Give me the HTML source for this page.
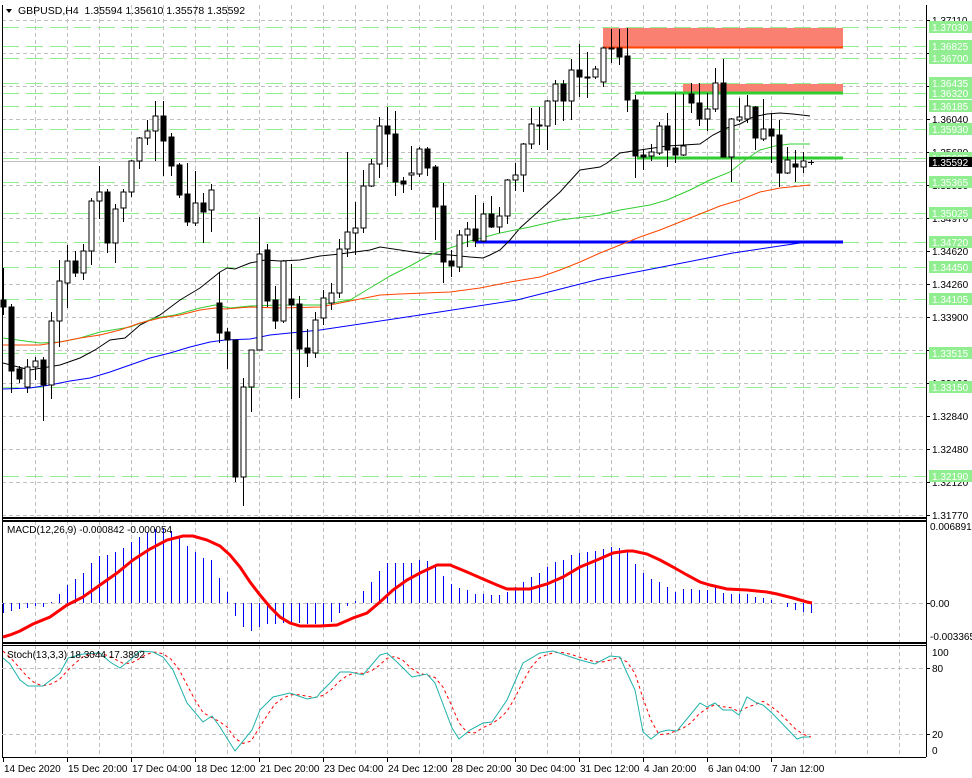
<!DOCTYPE html>
<html><head><meta charset="utf-8"><style>
html,body{margin:0;padding:0;background:#fff;}
svg{display:block;font-family:"Liberation Sans",sans-serif;}
</style></head><body>
<svg id="s" width="972" height="778" xmlns="http://www.w3.org/2000/svg"></svg>
<script>
const S=document.getElementById('s');let h='';
function L(x1,y1,x2,y2,c,w,d){h+=`<line x1="${x1}" y1="${y1}" x2="${x2}" y2="${y2}" stroke="${c}" stroke-width="${w||1}"${d?` stroke-dasharray="${d}"`:''}/>`;}
function T(x,y,t,c,sz,extra){h+=`<text x="${x}" y="${y}" fill="${c||'#000'}" font-size="${sz||10}" ${extra||''}>${t}</text>`;}
function P(pts,c,w,d){h+=`<polyline fill="none" points="${pts.map(p=>p.join(',')).join(' ')}" stroke="${c}" stroke-width="${w||1}"${d?` stroke-dasharray="${d}"`:''}/>`;}
function R(x,y,w,hh,f,st){h+=`<rect x="${x}" y="${y}" width="${w}" height="${hh}" fill="${f}"${st?` stroke="${st}" stroke-width="1"`:''}/>`;}
const py=p=>20+(1.3711-p)*9270;
for(let x=3.5+32;x<926;x+=32){L(x,5,x,518,'#c0c0c0',1,'4,3');L(x,521,x,643,'#c0c0c0',1,'4,3');L(x,645,x,757,'#c0c0c0',1,'4,3');}
const gl=[];for(let i=0;i<16;i++){gl.push(20+i*33);}
gl.forEach(y=>L(2,y+.5,926,y+.5,'#c0c0c0',1,'4,3'));
const greens=[1.37030,1.36825,1.36700,1.36435,1.36320,1.36185,1.35930,1.35625,1.35365,1.35025,1.34720,1.34450,1.34105,1.33515,1.33150,1.32190];
greens.forEach(p=>{const y=Math.round(py(p))+.5;L(2,y,926,y,'#90ee90',1,'17,7');});
L(2,161.5,926,161.5,'#c0c0c0',1);
R(603,28,240,19,'#fa8072');L(603,47.5,843,47.5,'#ff4500',2);
R(683,84,160,9,'#fa8072');
L(635,93,843,93,'#32cd32',3);L(637,158,843,158,'#32cd32',3);
L(475,242,843,242,'#0000ff',3);
P([[3,363],[30,370],[60,365],[80,358],[95,350],[110,340],[125,338],[132,332],[140,325],[160,315],[180,300],[200,288],[220,272],[227,268],[235,269],[250,263],[265,260],[280,261],[300,260],[320,256],[340,254],[370,250],[380,247],[400,250],[420,253],[450,255],[470,257],[483,258],[490,255],[500,250],[510,240],[520,228],[540,210],[560,192],[580,170],[600,167],[607,163],[620,153],[633,151],[667,146],[700,144],[713,135],[727,128],[740,124],[753,117],[767,114],[780,113],[793,114],[810,116]],'#000',1);
P([[3,338],[40,343],[60,342],[80,338],[100,332],[130,327],[155,318],[175,315],[200,308],[215,305],[230,308],[250,306],[280,305],[320,305],[350,300],[370,288],[390,276],[410,266],[430,255],[450,248],[470,241],[500,233],[530,227],[560,220],[600,215],[620,210],[650,205],[667,200],[690,190],[710,180],[730,172],[745,160],[760,150],[775,146],[790,144],[810,144]],'#32cd32',1);
P([[3,345],[40,345],[60,342],[80,338],[100,335],[120,330],[140,323],[160,318],[180,315],[200,310],[215,308],[225,309],[250,307],[280,308],[320,307],[380,295],[400,294],[450,292],[480,288],[510,282],[540,277],[560,270],[580,262],[600,253],[620,245],[640,237],[660,230],[680,222],[700,214],[720,206],[740,200],[760,192],[780,188],[800,186],[810,185]],'#ff4500',1);
P([[3,389],[30,388],[50,385],[70,381],[90,378],[110,372],[130,365],[150,358],[170,353],[190,347],[210,342],[225,340],[250,339],[270,335],[290,333],[320,330],[420,315],[517,300],[600,279],[667,266],[733,253],[800,243]],'#0000ff',1);
const C=[[300,268,315,307],[307,304,393,371],[369,366,383,379],[387,359,393,367],[367,357,380,361],[360,357,421,385],[385,312,399,321],[321,260,347,281],[283,245,308,261],[261,251,277,273],[273,244,280,251],[251,198,265,201],[201,166,219,192],[192,189,253,243],[243,204,263,209],[208,189,222,192],[192,160,197,161],[161,137,169,138],[138,120,145,131],[131,101,161,116],[116,101,176,141],[137,133,176,166],[165,163,198,195],[194,163,226,222],[223,171,226,203],[203,193,243,212],[210,184,232,190],[303,272,343,333],[332,328,369,340],[340,340,482,477],[477,378,506,387],[387,350,412,350],[350,217,350,254],[250,244,307,301],[300,286,329,321],[321,260,323,261],[299,264,399,305],[304,296,398,349],[348,329,367,353],[353,312,358,320],[318,290,325,298],[303,283,310,293],[293,239,298,249],[249,152,257,232],[233,202,255,228],[228,170,233,186],[186,159,187,164],[164,117,178,126],[126,107,167,134],[134,111,196,182],[181,177,193,184],[175,146,190,173],[174,147,177,149],[149,147,176,168],[167,165,240,207],[206,183,283,262],[261,250,277,266],[267,230,272,235],[235,222,247,229],[229,195,247,241],[241,203,242,214],[214,196,228,227],[227,207,233,216],[216,179,224,180],[180,163,191,175],[175,143,192,144],[144,108,149,124],[125,107,145,126],[126,100,150,101],[101,80,125,84],[84,80,121,101],[101,59,120,70],[70,44,97,77],[77,52,98,78],[77,66,79,69],[82,47,87,48],[48,29,63,49],[48,29,65,57],[56,28,112,100],[100,95,178,156],[155,150,170,157],[156,144,161,152],[153,122,155,126],[126,113,167,150],[148,93,163,155],[155,94,156,146],[94,83,113,103],[103,83,126,119],[119,93,131,109],[109,68,112,83],[83,59,157,157],[157,118,182,119],[120,98,122,117],[119,95,123,106],[107,106,150,138],[139,99,141,129],[129,113,163,136],[135,120,187,173],[173,147,174,160],[164,150,182,167],[167,152,173,161]];
C.forEach((c,i)=>{const x=3.5+8*i;let [o,hi,lo,cl]=c;L(x,hi,x,lo,'#000',1);const top=Math.min(o,cl),bh=Math.max(1,Math.abs(o-cl));
 if(cl<o)R(x-2.5,top,5,bh,'#fff','#000');else R(x-2.5,top,5,bh,'#000','#000');});
L(808,162.5,814,162.5,'#000',1);L(811.5,160,811.5,165,'#000',1);
L(2.5,5,2.5,757,'#000',1);L(926.5,5,926.5,757,'#000',1);
L(2,518,926,518,'#000',2);L(2,521,926,521,'#000',2);L(2,643,926,643,'#000',2);L(2,645.5,926,645.5,'#000',1);L(2,757.5,926,757.5,'#000',1);
const lbl=['1.37110','1.36750','1.36390','1.36040','1.35680','1.35330','1.34970','1.34620','1.34260','1.33900','1.33550','1.33190','1.32840','1.32480','1.32120','1.31770'];
gl.forEach((y,i)=>{L(926,y+.5,930,y+.5,'#000');T(932,y+4,lbl[i],'#000',10);});
greens.forEach(p=>{const y=Math.round(py(p));R(929,y-6,43,12,'#90ee90');T(932,y+4,p.toFixed(5),'#fff',10);});
R(929,157,43,10,'#000');T(932,166,'1.35592','#fff',10);
h+=`<polygon points="6,9 12,9 9,13" fill="#000"/>`;
T(18,14,'GBPUSD,H4&#160;&#160;1.35594 1.35610 1.35578 1.35592','#000',10.5);
L(2,603.5,926,603.5,'#c0c0c0',1,'4,3');
const H=[613,611,609,608,606,607,602,594,585,579,573,563,556,555,552,548,542,537,532,529,528,531,537,546,552,558,560,578,592,616,627,631,627,624,624,623,623,623,624,624,625,622,613,606,601,591,582,571,563,563,563,563,560,561,566,576,584,588,590,594,594,595,595,592,587,582,577,573,567,562,560,555,553,552,551,549,547,548,552,564,573,579,582,587,592,589,589,590,590,587,593,594,594,594,597,598,600,603,607,610,612,613];
H.forEach((y,i)=>{const x=3.5+8*i;L(x,603,x,y,'#0000ff',1);});
P([[3,637],[10,635],[20,631],[33,624],[50,617],[67,605],[83,597],[100,585],[117,573],[133,560],[150,549],[167,540],[183,536],[193,536],[207,540],[220,546],[230,555],[240,567],[250,582],[260,595],[270,607],[280,617],[290,623],[300,626],[320,626],[337,625],[353,618],[367,613],[380,602],[393,590],[407,580],[420,573],[437,565],[450,565],[467,572],[483,579],[497,585],[507,589],[530,589],[547,584],[563,577],[580,567],[597,560],[613,553],[620,552],[627,551],[633,551],[647,554],[660,560],[673,567],[687,575],[700,582],[710,585],[727,589],[747,590],[767,592],[777,594],[793,598],[807,602],[812,603]],'#ff0000',3);
T(7,533,'MACD(12,26,9) -0.000842 -0.000054','#000',10);
T(930,530,'0.006891','#000',10);L(926,603.5,930,603.5,'#000');T(930,607,'0.00','#000',10);T(930,640,'-0.003365','#000',10);
L(2,668.5,926,668.5,'#c0c0c0',1,'4,3');L(2,734.5,926,734.5,'#c0c0c0',1,'4,3');
const K=[[3,658],[10,664],[20,680],[28,686],[43,686],[60,673],[68,658],[83,654],[100,653],[110,662],[120,668],[130,660],[140,651],[153,652],[163,657],[173,670],[187,703],[203,722],[212,716],[220,727],[235,751],[252,730],[260,710],[273,697],[290,693],[307,699],[317,697],[320,693],[330,683],[340,672],[350,672],[363,675],[380,655],[387,653],[397,662],[412,677],[427,674],[435,683],[452,728],[459,739],[470,730],[483,723],[492,722],[507,700],[523,663],[540,653],[553,651],[580,660],[595,664],[610,656],[620,657],[627,673],[635,690],[643,732],[651,739],[660,732],[668,730],[677,731],[700,703],[707,707],[715,703],[723,710],[732,710],[739,715],[747,697],[757,703],[763,705],[772,713],[797,739],[803,737],[810,737]];
function kAt(x){for(let i=1;i<K.length;i++){if(x<=K[i][0]){const a=K[i-1],b=K[i];return a[1]+(b[1]-a[1])*(x-a[0])/(b[0]-a[0]);}}return K[K.length-1][1];}
const D=[];for(let i=0;i<=101;i++){const x=3+8*i;const v=(kAt(x)+kAt(x-8)+kAt(x-16))/3;D.push([x,v.toFixed(1)]);}
P(D,'#ff0000',1,'3,3');
P(K,'#20b2aa',1);
T(7,658,'Stoch(13,3,3) 18.3044 17.3892','#000',10);
[[100,656],[80,672],[20,738],[0,754]].forEach(a=>{T(932,a[1],a[0],'#000',10);});
L(926,668.5,930,668.5,'#000');L(926,734.5,930,734.5,'#000');
const dates=[[3,'14 Dec 2020'],[67,'15 Dec 20:00'],[131,'17 Dec 04:00'],[195,'18 Dec 12:00'],[259,'21 Dec 20:00'],[323,'23 Dec 04:00'],[387,'24 Dec 12:00'],[451,'28 Dec 20:00'],[515,'30 Dec 04:00'],[579,'31 Dec 12:00'],[643,'4 Jan 20:00'],[707,'6 Jan 04:00'],[771,'7 Jan 12:00']];
dates.forEach(d=>{L(d[0]+.5,757,d[0]+.5,762,'#000');T(d[0]+1,772,d[1],'#000',10);});
S.innerHTML=h;
</script>
</body></html>
